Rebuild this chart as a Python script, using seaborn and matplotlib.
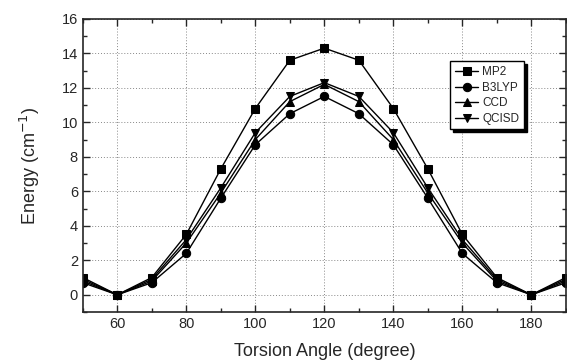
import seaborn as sns
import pandas as pd
import matplotlib.pyplot as plt
from matplotlib.ticker import MultipleLocator

angle = [50, 60, 70, 80, 90, 100, 110, 120, 130, 140, 150, 160, 170, 180, 190]
mp2 = [1.0, 0.0, 1.0, 3.5, 7.3, 10.8, 13.6, 14.3, 13.6, 10.8, 7.3, 3.5, 1.0, 0.0, 1.0]
b3lyp = [0.7, 0.0, 0.7, 2.4, 5.6, 8.7, 10.5, 11.5, 10.5, 8.7, 5.6, 2.4, 0.7, 0.0, 0.7]
ccd = [0.8, 0.0, 0.8, 3.0, 5.9, 9.0, 11.2, 12.2, 11.2, 9.0, 5.9, 3.0, 0.8, 0.0, 0.8]
qcisd = [0.9, 0.0, 0.9, 3.2, 6.2, 9.4, 11.5, 12.3, 11.5, 9.4, 6.2, 3.2, 0.9, 0.0, 0.9]
methods = ['MP2', 'B3LYP', 'CCD', 'QCISD']

rows = []
for name, vals in zip(methods, [mp2, b3lyp, ccd, qcisd]):
    for a, v in zip(angle, vals):
        rows.append({'angle': a, 'energy': v, 'method': name})
df = pd.DataFrame(rows)

sns.set_style("ticks")
plt.rcParams['font.family'] = ['Liberation Sans', 'DejaVu Sans']
plt.rcParams['xtick.direction'] = 'in'
plt.rcParams['ytick.direction'] = 'in'

fig = plt.figure(figsize=(5.67, 3.62), dpi=100)
ax = fig.add_axes([0.146, 0.138, 0.852, 0.81])

sns.lineplot(data=df, x='angle', y='energy', hue='method', style='method',
             markers=['s', 'o', '^', 'v'], dashes=False,
             palette=['black'] * 4, markersize=6, linewidth=1,
             markeredgecolor='black', ax=ax)

ax.set_xlim(50, 190)
ax.set_ylim(-1, 16)
ax.xaxis.set_major_locator(MultipleLocator(20))
ax.xaxis.set_minor_locator(MultipleLocator(10))
ax.yaxis.set_major_locator(MultipleLocator(2))
ax.yaxis.set_minor_locator(MultipleLocator(1))
ax.tick_params(which='both', top=True, right=True, labelsize=10.5, width=1)
ax.tick_params(which='major', length=5)
ax.tick_params(which='minor', length=3)
ax.grid(True, which='major', linestyle=(0, (1, 2)), color='#888888', linewidth=0.7)
for s in ax.spines.values():
    s.set_linewidth(1.2)

ax.set_xlabel('Torsion Angle (degree)', fontsize=13, labelpad=9)
ax.set_ylabel('Energy (cm$^{-1}$)', fontsize=13, labelpad=14)

leg = ax.legend(title=None, loc='upper right', bbox_to_anchor=(0.925, 0.875),
                fontsize=8.5, frameon=True, fancybox=False, edgecolor='black',
                framealpha=1, shadow={'color': 'black', 'alpha': 1},
                handlelength=2, handletextpad=0.3, borderpad=0.4, labelspacing=0.3)
leg.get_frame().set_linewidth(1)

plt.savefig('out.png', dpi=100)
